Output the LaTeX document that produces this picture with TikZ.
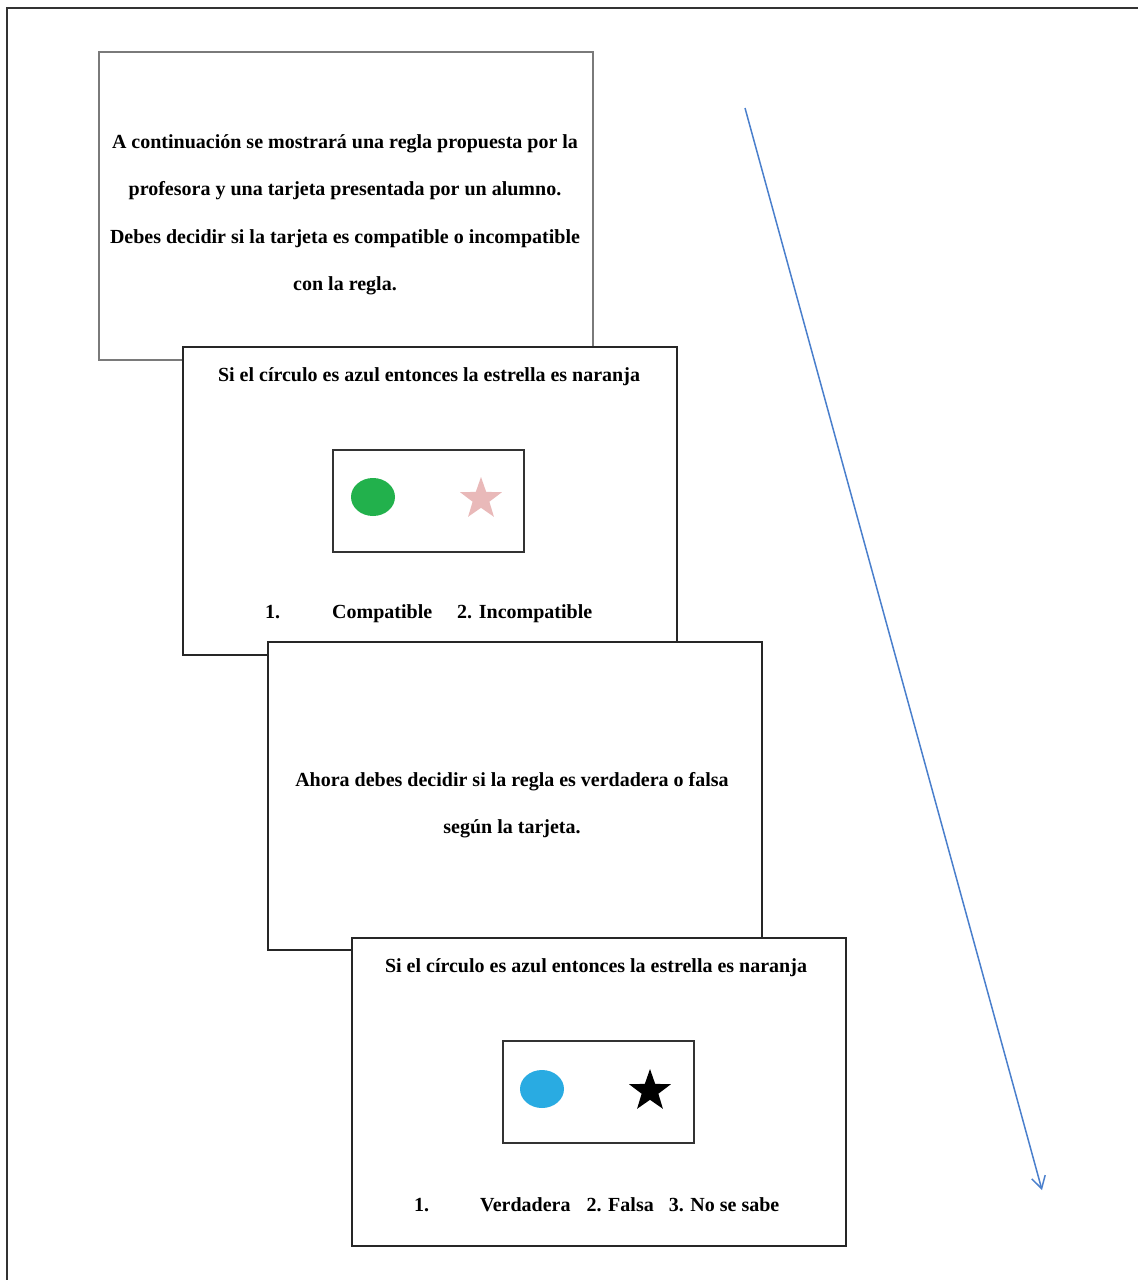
\documentclass[tikz,border=0pt]{standalone}
\usepackage{fontspec}
\setmainfont{Liberation Serif}
\usetikzlibrary{arrows.meta, shapes.geometric, positioning}

\definecolor{frameGray}{HTML}{333333}
\definecolor{introGray}{HTML}{7A7A7A}
\definecolor{cardGreen}{HTML}{22B14C}
\definecolor{cardPink}{HTML}{E9B9B9}
\definecolor{cardBlue}{HTML}{29ABE2}
\definecolor{arrowBlue}{HTML}{4A7FCC}

\begin{document}
\begin{tikzpicture}[x=1pt, y=-1pt,
    slide/.style={draw=#1, line width=2pt, fill=white, anchor=north west,
      minimum width=494pt, minimum height=308pt, inner sep=0pt},
    slide/.default=black!85,
    card/.style={draw=black!80, line width=1.8pt, anchor=north west,
      minimum width=191pt, minimum height=102pt, inner sep=0pt},
    txt/.style={font=\bfseries\fontsize{20}{47.5}\selectfont, align=center, inner sep=0pt},
    dot/.style={ellipse, fill=#1, minimum width=44pt, minimum height=38pt, inner sep=0pt},
    starmark/.style={star, star points=5, star point ratio=2.5, fill=#1,
      minimum size=44pt, inner sep=0pt}]
    \useasboundingbox (0,0) rectangle (1138,1280);
    \draw[frameGray, line width=2pt] (7,1280) -- (7,8) -- (1138,8);

    \node[slide=introGray] (intro) at (98,51) {};
    \node[txt] (introtext) at (345,215) {A continuación se mostrará una regla propuesta por la\\
      profesora y una tarjeta presentada por un alumno.\\
      Debes decidir si la tarjeta es compatible o incompatible\\
      con la regla.};

    \node[slide] (ruleone) at (182,346) {};
    \node[txt] (ruleonetitle) at (429,377) {Si el círculo es azul entonces la estrella es naranja};
    \node[card] (cardone) at (332,449) {};
    \node[dot=cardGreen] (greencircle) at (373,497) {};
    \node[starmark=cardPink] (pinkstar) at (481,499) {};
    \node[txt, anchor=west] (optone) at (265,614) {1.\hspace{52pt}Compatible\hspace{25pt}2. Incompatible};

    \node[slide] (judge) at (267,641) {};
    \node[txt] (judgetext) at (512,805) {Ahora debes decidir si la regla es verdadera o falsa\\
      según la tarjeta.};

    \node[slide] (ruletwo) at (351,937) {};
    \node[txt] (ruletwotitle) at (596,968) {Si el círculo es azul entonces la estrella es naranja};
    \node[card] (cardtwo) at (502,1040) {};
    \node[dot=cardBlue] (bluecircle) at (542,1089) {};
    \node[starmark=black] (blackstar) at (650,1091) {};
    \node[txt, anchor=west] (opttwo) at (414,1205) {1.\hspace{51pt}Verdadera\hspace{16pt}2. Falsa\hspace{15pt}3. No se sabe};

    \coordinate (tstart) at (745,108);
    \coordinate (tend) at (1042,1190);
    \draw[arrowBlue, line width=1.5pt, -{Straight Barb[length=12pt, width=14pt]}] (tstart) -- (tend);
\end{tikzpicture}
\end{document}
